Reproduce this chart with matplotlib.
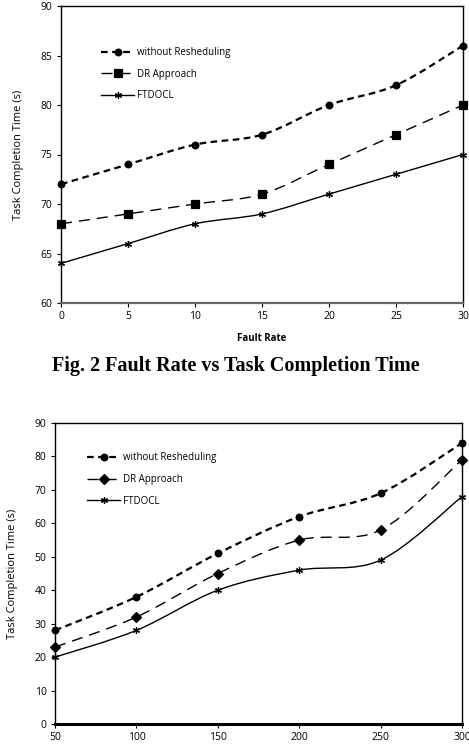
import matplotlib
matplotlib.use("Agg")
import matplotlib.pyplot as plt
from matplotlib.path import Path
from matplotlib.patches import PathPatch
from matplotlib.lines import Line2D
import numpy as np

# ---- data ----
fault_rate = [0, 5, 10, 15, 20, 25, 30]
top_without = [72, 74, 76, 77, 80, 82, 86]
top_dr = [68, 69, 70, 71, 74, 77, 80]
top_ftdocl = [64, 66, 68, 69, 71, 73, 75]

tasks = [50, 100, 150, 200, 250, 300]
bot_without = [28, 38, 51, 62, 69, 84]
bot_dr = [23, 32, 45, 55, 58, 79]
bot_ftdocl = [20, 28, 40, 46, 49, 68]

labels = ["without Resheduling", "DR Approach", "FTDOCL"]
caption = "Fig. 2 Fault Rate vs Task Completion Time"

plt.rcParams['font.family'] = ['Open Sans', 'DejaVu Sans']

fig = plt.figure(figsize=(4.69, 7.53), dpi=100)


def smooth_path(x, y):
    pts = np.column_stack([x, y]).astype(float)
    n = len(pts)
    verts = [pts[0]]
    codes = [Path.MOVETO]
    for i in range(n - 1):
        p0 = pts[i - 1] if i > 0 else pts[i]
        p1 = pts[i]
        p2 = pts[i + 1]
        p3 = pts[i + 2] if i + 2 < n else pts[i + 1]
        c1 = p1 + (p2 - p0) / 6.0
        c2 = p2 - (p3 - p1) / 6.0
        verts += [c1, c2, p2]
        codes += [Path.CURVE4] * 3
    return Path(verts, codes)


styles = [
    dict(ls=(0, (3, 2)), lw=1.6, marker='o', ms=4.8),
    dict(ls=(0, (8, 5)), lw=1.0, marker='s', ms=5.2),
    dict(ls='-', lw=1.0, marker=(6, 2, 0), ms=5),
]


def draw(ax, x, series, mk2):
    handles = []
    for k, (y, st) in enumerate(zip(series, styles)):
        mk = st['marker']
        ms = st['ms']
        if k == 1 and mk2 is not None:
            mk = mk2
            ms = 4.8
        patch = PathPatch(smooth_path(x, y), fill=False, edgecolor='black',
                          lw=st['lw'], linestyle=st['ls'], zorder=2,
                          clip_on=False)
        ax.add_patch(patch)
        ax.plot(x, y, linestyle='none', marker=mk, ms=ms, color='black',
                mec='black', mew=0.9, zorder=3, clip_on=False)
        handles.append(Line2D([], [], color='black', lw=st['lw'],
                              linestyle=st['ls'], marker=mk, ms=ms,
                              mew=0.9))
    return handles


def style_axes(ax):
    for s in ax.spines.values():
        s.set_linewidth(1.0)
        s.set_color('black')
    ax.tick_params(axis='both', labelsize=7.5, length=3, width=0.8,
                   direction='out', pad=3)
    ax.tick_params(axis='x', top=False)
    ax.tick_params(axis='y', right=False)


# ---- top chart ----
ax1 = fig.add_axes([61 / 469, 1 - 303 / 753, 402 / 469, 297 / 753])
h1 = draw(ax1, fault_rate, [top_without, top_dr, top_ftdocl], None)
ax1.set_xlim(0, 30)
ax1.set_ylim(60, 90)
ax1.set_xticks(fault_rate)
ax1.set_yticks([60, 65, 70, 75, 80, 85, 90])
style_axes(ax1)
ax1.spines['bottom'].set_color('#666666')
ax1.spines['bottom'].set_linewidth(1.6)
ax1.set_xlabel("Fault Rate", fontsize=7, fontweight='bold', labelpad=8)
ax1.set_ylabel("Task Completion Time (s)", fontsize=8, labelpad=12)
leg1 = ax1.legend(h1, labels, loc='upper left', bbox_to_anchor=(0.09, 0.875),
                  frameon=False, fontsize=7, handlelength=3.4,
                  handletextpad=0.3, labelspacing=1.1, borderaxespad=0)

fig.text(236 / 469, 1 - 366 / 753, caption, ha='center', va='center',
         fontsize=14.5, fontweight='bold', family=['Liberation Serif'])

# ---- bottom chart ----
ax2 = fig.add_axes([55 / 469, 1 - 724 / 753, 407 / 469, 301 / 753])
h2 = draw(ax2, tasks, [bot_without, bot_dr, bot_ftdocl], 'D')
ax2.set_xlim(50, 300)
ax2.set_ylim(0, 90)
ax2.set_xticks(tasks)
ax2.set_yticks(list(range(0, 91, 10)))
style_axes(ax2)
ax2.spines['bottom'].set_linewidth(2.2)
ax2.set_ylabel("Task Completion Time (s)", fontsize=8, labelpad=12)
leg2 = ax2.legend(h2, labels, loc='upper left', bbox_to_anchor=(0.07, 0.915),
                  frameon=False, fontsize=7, handlelength=3.4,
                  handletextpad=0.3, labelspacing=1.1, borderaxespad=0)

fig.savefig("out.png", dpi=100)
